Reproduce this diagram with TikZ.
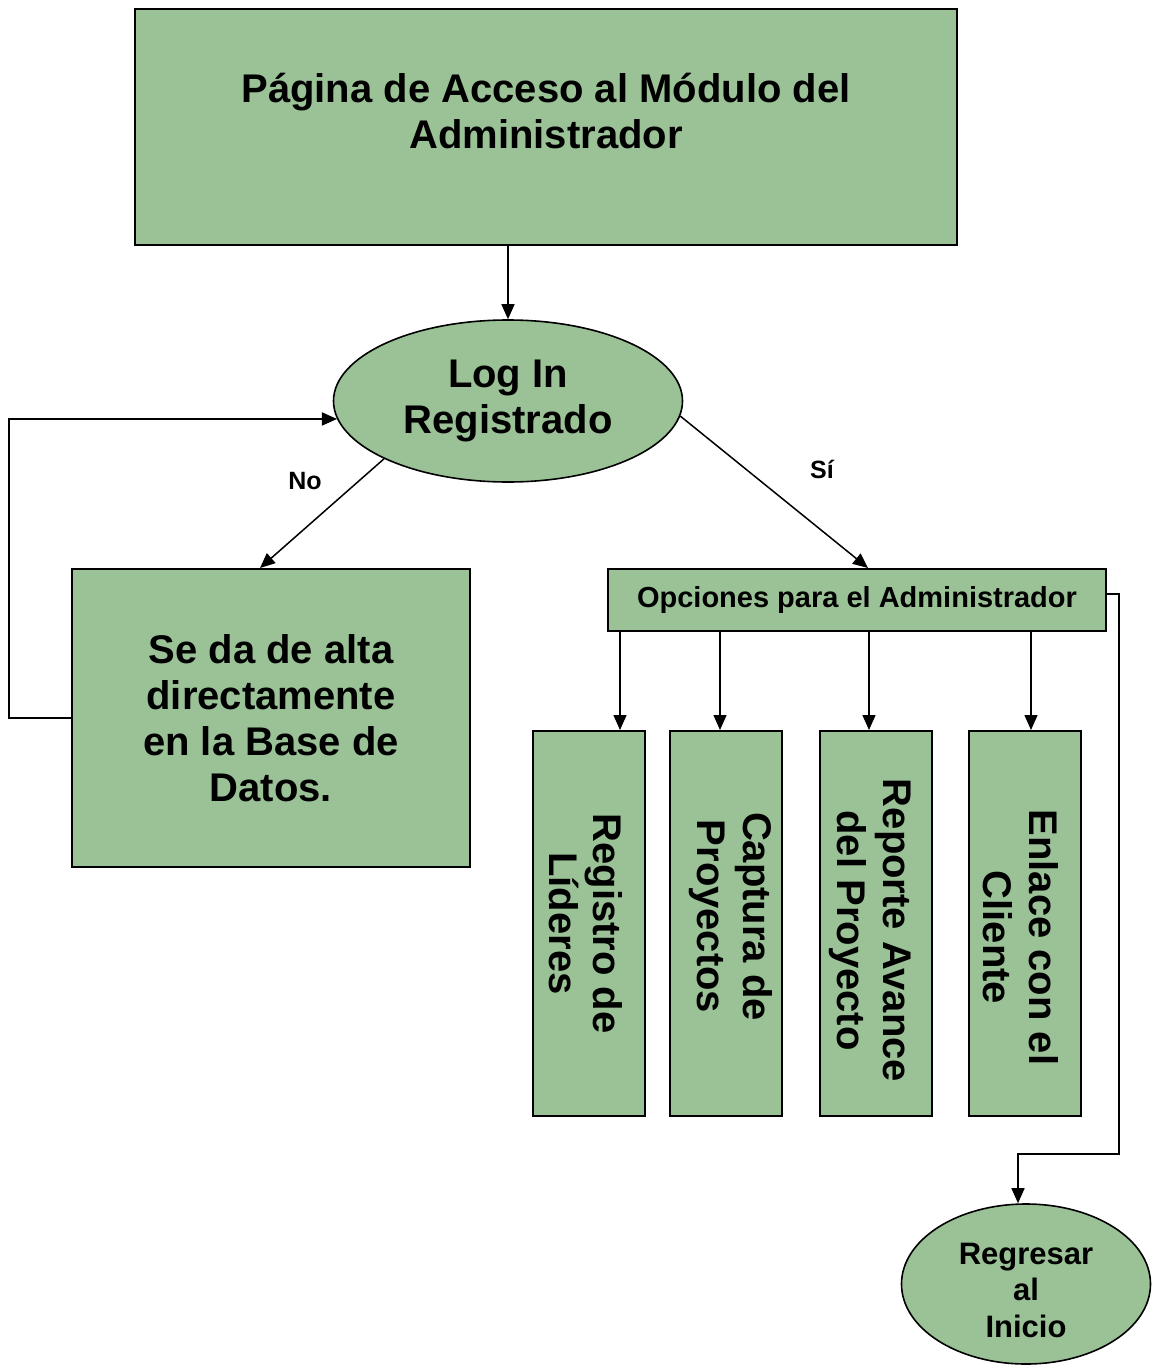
\documentclass[tikz,border=0pt]{standalone}
\usepackage{fontspec}
\setmainfont{Liberation Sans}
\usetikzlibrary{shapes.geometric,arrows.meta}
\definecolor{boxgreen}{RGB}{155,194,151}
\tikzset{
  box/.style={draw=black, line width=2pt, fill=boxgreen, inner sep=0pt},
  oval/.style={draw=black, line width=1.6pt, fill=boxgreen, ellipse, inner sep=0pt},
  big/.style={font=\bfseries\fontsize{40}{46}\selectfont, align=center},
  mid/.style={font=\bfseries\fontsize{29}{34}\selectfont, align=center},
  small/.style={font=\bfseries\fontsize{31}{36.5}\selectfont, align=center},
  lbl/.style={font=\bfseries\fontsize{25}{30}\selectfont},
  vtext/.style={big, rotate=-90},
  arr/.style={line width=1.5pt, -{Triangle[length=15pt,width=13pt]}},
}
\begin{document}
\begin{tikzpicture}[x=1pt,y=-1pt]
\useasboundingbox (0,0) rectangle (1152,1365);

% header box and its title
\node[box, minimum width=822pt, minimum height=236pt] (top) at (546,127) {};
\node[big] (toptext) at (546,111) {Página de Acceso al Módulo del\\Administrador};

% login decision
\node[oval, big, minimum width=349pt, minimum height=162pt] (login) at (508,401) {Log In\\Registrado};

% registration in the database
\node[box, big, minimum width=398pt, minimum height=298pt] (alta) at (271,718)
  {Se da de alta\\directamente\\en la Base de\\Datos.};

% administrator options
\node[box, mid, minimum width=498pt, minimum height=62pt] (opt) at (857,600)
  {Opciones para el Administrador};

% option boxes with vertical labels
\node[box, minimum width=112pt, minimum height=385pt] (b1) at (589,923.5) {};
\node[box, minimum width=112pt, minimum height=385pt] (b2) at (726,923.5) {};
\node[box, minimum width=112pt, minimum height=385pt] (b3) at (876,923.5) {};
\node[box, minimum width=112pt, minimum height=385pt] (b4) at (1025,923.5) {};
\node[vtext, font=\bfseries\fontsize{40}{44}\selectfont] (t1) at ([xshift=-3pt]b1.center) {Registro de\\Líderes};
\node[vtext] (t2) at ([xshift=5pt,yshift=7pt]b2.center) {Captura de\\Proyectos};
\node[vtext] (t3) at ([xshift=-6pt,yshift=-7pt]b3.center) {Reporte Avance\\del Proyecto};
\node[vtext] (t4) at ([xshift=-4pt,yshift=-14pt]b4.center) {Enlace con el\\Cliente};

% back to start
\node[oval, minimum width=249pt, minimum height=160pt] (ret) at (1026,1284) {};
\node[small] (rettext) at (1026,1290) {Regresar\\al\\Inicio};

% connectors
\draw[arr] (login.north |- top.south) -- (login.north);
\draw[arr] (login.205) -- ([xshift=-11pt]alta.north);
\draw[arr] (login.-5) -- ([xshift=11pt]opt.north);
\draw[arr] (alta.west) -- ++(-62,0) |- (login.186);

\draw[arr] ([xshift=31pt]b1.north |- opt.south) -- ([xshift=31pt]b1.north);
\draw[arr] ([xshift=-6pt]b2.north |- opt.south) -- ([xshift=-6pt]b2.north);
\draw[arr] ([xshift=-7pt]b3.north |- opt.south) -- ([xshift=-7pt]b3.north);
\draw[arr] ([xshift=6pt]b4.north |- opt.south) -- ([xshift=6pt]b4.north);

\draw[arr] ([yshift=6pt]opt.east) -- ++(12,0) -- ++(0,560) -| ([xshift=-8pt]ret.north);

% branch labels
\node[lbl] (no) at (305,481) {No};
\node[lbl] (si) at (822,469) {Sí};
\end{tikzpicture}
\end{document}
